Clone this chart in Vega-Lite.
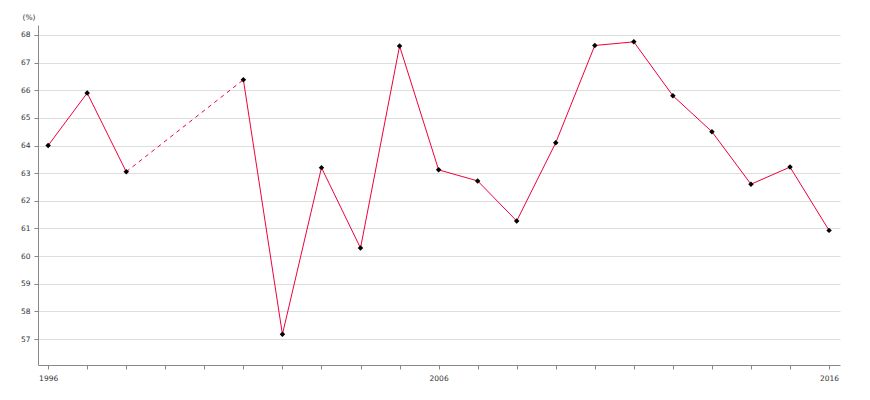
{
  "$schema": "https://vega.github.io/schema/vega-lite/v6.json",
  "width": 802,
  "height": 340,
  "autosize": {"type": "none"},
  "padding": {"left": 38, "top": 25, "right": 30, "bottom": 35},
  "background": "white",
  "config": {
    "view": {"stroke": null},
    "font": "DejaVu Sans"
  },
  "data": {
    "values": [
      {"year": 1996, "value": 64.0, "period": "A"},
      {"year": 1997, "value": 65.9, "period": "A"},
      {"year": 1998, "value": 63.05, "period": "A"},
      {"year": 2001, "value": 66.38, "period": "B"},
      {"year": 2002, "value": 57.17, "period": "B"},
      {"year": 2003, "value": 63.2, "period": "B"},
      {"year": 2004, "value": 60.29, "period": "B"},
      {"year": 2005, "value": 67.6, "period": "B"},
      {"year": 2006, "value": 63.12, "period": "B"},
      {"year": 2007, "value": 62.72, "period": "B"},
      {"year": 2008, "value": 61.27, "period": "B"},
      {"year": 2009, "value": 64.1, "period": "B"},
      {"year": 2010, "value": 67.62, "period": "B"},
      {"year": 2011, "value": 67.75, "period": "B"},
      {"year": 2012, "value": 65.8, "period": "B"},
      {"year": 2013, "value": 64.5, "period": "B"},
      {"year": 2014, "value": 62.6, "period": "B"},
      {"year": 2015, "value": 63.22, "period": "B"},
      {"year": 2016, "value": 60.93, "period": "B"}
    ]
  },
  "encoding": {
    "x": {
      "field": "year",
      "type": "quantitative",
      "scale": {"domain": [1995.74, 2016.28], "nice": false, "zero": false},
      "axis": {
        "title": null,
        "values": [1996,1997,1998,1999,2000,2001,2002,2003,2004,2005,2006,2007,2008,2009,2010,2011,2012,2013,2014,2015,2016],
        "labelExpr": "(datum.value == 1996 || datum.value == 2006 || datum.value == 2016) ? datum.value : ''",
        "grid": false,
        "domainColor": "#888888",
        "tickColor": "#888888",
        "tickSize": 4,
        "labelFontSize": 7.5,
        "labelColor": "#333333",
        "labelPadding": 5,
        "labelFlush": false,
        "labelOverlap": false,
        "labelAlign": "center"
      }
    },
    "y": {
      "field": "value",
      "type": "quantitative",
      "scale": {"domain": [56.06, 68.36], "nice": false, "zero": false},
      "axis": {
        "title": "(%)",
        "titleAngle": 0,
        "titleX": -16,
        "titleY": -8,
        "titleAlign": "left",
        "titleBaseline": "middle",
        "titleFontSize": 7.5,
        "titleFontWeight": "normal",
        "titleColor": "#333333",
        "values": [57,58,59,60,61,62,63,64,65,66,67,68],
        "grid": true,
        "gridColor": "#dddddd",
        "domainColor": "#888888",
        "tickColor": "#888888",
        "tickSize": 4,
        "labelFontSize": 7.5,
        "labelColor": "#333333",
        "labelPadding": 4
      }
    }
  },
  "layer": [
    {
      "mark": {"type": "line", "color": "#f0003c", "strokeWidth": 1},
      "encoding": {"detail": {"field": "period"}}
    },
    {
      "transform": [{"filter": "datum.year == 1998 || datum.year == 2001"}],
      "mark": {"type": "line", "color": "#f0003c", "strokeWidth": 1, "strokeDash": [4, 4]},
      "encoding": {}
    },
    {
      "mark": {"type": "point", "shape": "diamond", "filled": true, "color": "black", "size": 30, "opacity": 1}
    }
  ]
}
